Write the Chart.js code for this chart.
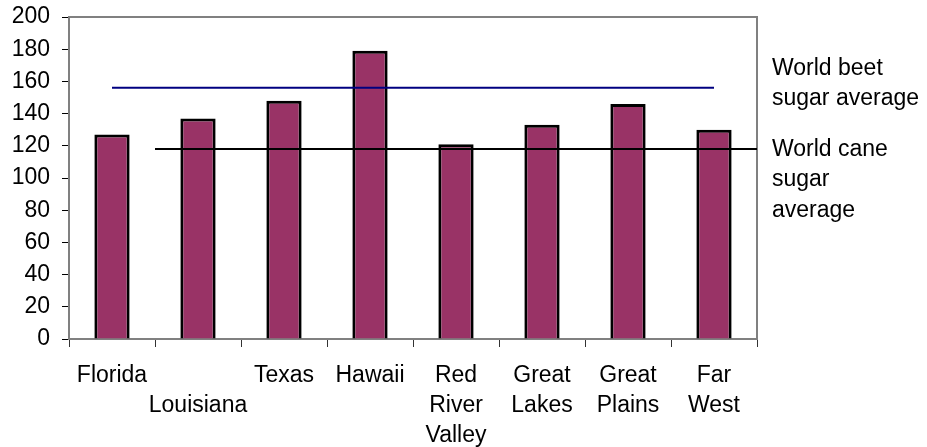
<!DOCTYPE html>
<html>
<head>
<meta charset="utf-8">
<script src="https://cdn.jsdelivr.net/npm/chart.js@4/dist/chart.umd.min.js"></script>
<style>
  html, body { margin: 0; padding: 0; background: #fff; }
  #wrap { width: 927px; height: 447px; }
</style>
</head>
<body>
<div id="wrap"><canvas id="sugarChart"></canvas></div>
<script>
// regions (multi-line labels, Louisiana drops to the second row like the original)
const regions = [
    ['Florida'],
    ['', 'Louisiana'],
    ['Texas'],
    ['Hawaii'],
    ['Red', 'River', 'Valley'],
    ['Great', 'Lakes'],
    ['Great', 'Plains'],
    ['Far', 'West']
];
const sugarYield = [127, 137, 148, 179, 121, 133, 146, 130];
const beetAverage = 156;
const caneAverage = 118;
const beetSpan = [0, 7];      // category positions the beet line runs between
const caneSpan = [0.5, 7.5];  // cane line starts at the Florida/Louisiana boundary
const yTicks = [0, 20, 40, 60, 80, 100, 120, 140, 160, 180, 200];

const FONT = '"Liberation Sans", Arial, sans-serif';

// grey frame on top/right, and the two side notes
const framePlugin = {
    id: 'frame',
    beforeDatasetsDraw(chart) {
        const a = chart.chartArea, c = chart.ctx;
        c.save();
        c.strokeStyle = '#808080';
        c.lineWidth = 2;
        c.strokeRect(a.left, a.top, a.right - a.left, a.bottom - a.top);
        c.restore();
    },
    afterDraw(chart) {
        const a = chart.chartArea, c = chart.ctx, y = chart.scales.y;
        c.save();
        c.fillStyle = '#000';
        c.font = '23px ' + FONT;
        c.textBaseline = 'middle';
        const x = a.right + 15;
        const yb = y.getPixelForValue(beetAverage);
        c.fillText('World beet', x, yb - 19);
        c.fillText('sugar average', x, yb + 11);
        const yc = y.getPixelForValue(caneAverage);
        c.fillText('World cane', x, yc + 1);
        c.fillText('sugar', x, yc + 31);
        c.fillText('average', x, yc + 62);
        c.restore();
    }
};

Chart.defaults.font.family = FONT;
Chart.defaults.color = '#000';

const ctx = document.getElementById('sugarChart').getContext('2d');
new Chart(ctx, {
    type: 'bar',
    data: {
        labels: regions,
        datasets: [
            {
                label: 'Yield',
                data: sugarYield,
                backgroundColor: '#993366',
                borderColor: '#000',
                borderWidth: 3,
                grouped: false,
                barPercentage: 0.41,
                categoryPercentage: 1,
                order: 2
            },
            {
                type: 'line',
                label: 'World beet sugar average',
                xAxisID: 'xl',
                data: beetSpan.map(v => ({ x: v, y: beetAverage })),
                borderColor: '#000080',
                borderWidth: 2,
                pointRadius: 0,
                order: 1
            },
            {
                type: 'line',
                label: 'World cane sugar average',
                xAxisID: 'xl',
                data: caneSpan.map(v => ({ x: v, y: caneAverage })),
                borderColor: '#000',
                borderWidth: 2,
                pointRadius: 0,
                order: 1
            }
        ]
    },
    options: {
        responsive: true,
        maintainAspectRatio: false,
        animation: false,
        layout: { padding: { top: 17, right: 170, left: 0, bottom: 0 } },
        plugins: {
            legend: { display: false },
            tooltip: { enabled: false }
        },
        scales: {
            x: {
                grid: {
                    offset: true,
                    drawOnChartArea: false,
                    tickLength: 8,
                    color: '#333'
                },
                border: { color: '#333', width: 1 },
                ticks: {
                    maxRotation: 0,
                    autoSkip: false,
                    padding: 14,
                    font: { size: 23, lineHeight: 1.3 }
                },
                afterFit(s) { s.height = 108; s.paddingLeft = 0; s.paddingRight = 0; }
            },
            xl: {
                type: 'linear',
                display: false,
                offset: false,
                min: -0.5,
                max: 7.5
            },
            y: {
                min: 0,
                max: 200,
                afterBuildTicks(s) { s.ticks = yTicks.map(v => ({ value: v })); },
                grid: {
                    drawOnChartArea: false,
                    tickLength: 7,
                    color: '#000'
                },
                border: { color: '#000', width: 1 },
                ticks: {
                    padding: 12,
                    font: { size: 23 }
                },
                afterFit(s) { s.width = 69; s.paddingTop = 0; s.paddingBottom = 0; }
            }
        }
    },
    plugins: [framePlugin]
});
</script>
</body>
</html>
